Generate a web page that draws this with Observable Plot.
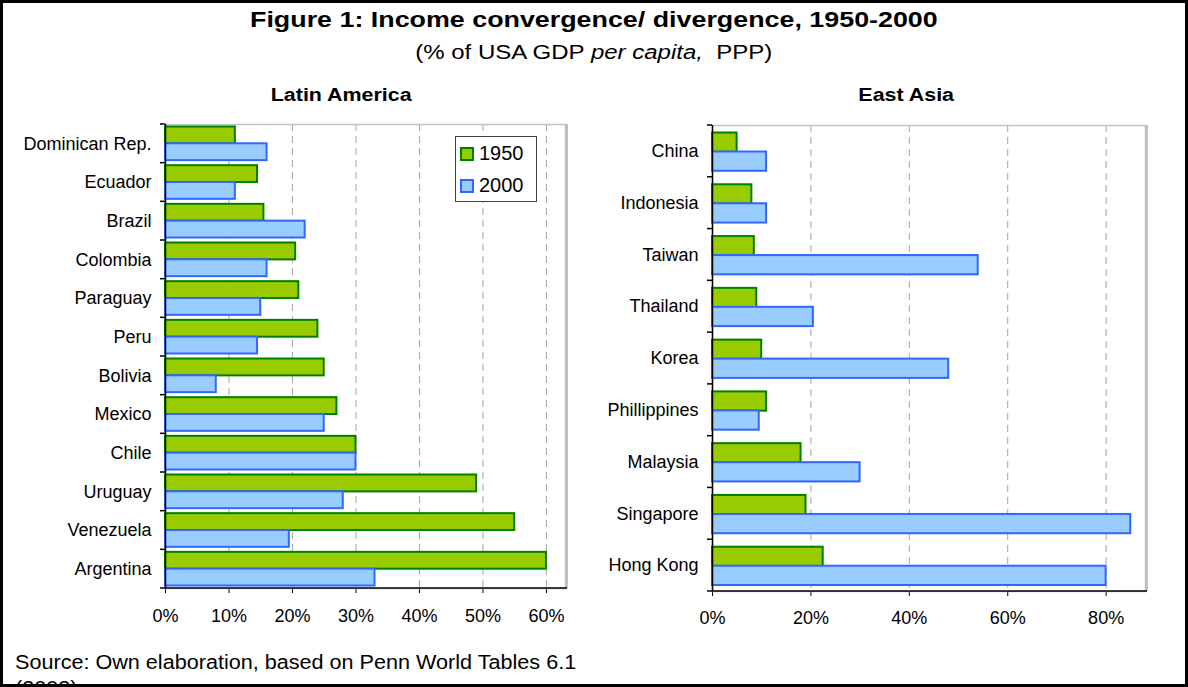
<!DOCTYPE html>
<html><head><meta charset="utf-8">
<script src="https://cdn.jsdelivr.net/npm/d3@7"></script>
<script src="https://cdn.jsdelivr.net/npm/@observablehq/plot@0.6"></script>
<style>
body{margin:0;background:#fff;font-family:Arial,"Liberation Sans",sans-serif;}
#page{position:relative;width:1188px;height:687px;overflow:hidden;background:#fff;}
#border{position:absolute;left:0;top:0;width:1188px;height:687px;box-sizing:border-box;border:3px solid #000;pointer-events:none;z-index:10}
.t{position:absolute;white-space:nowrap;color:#000}
.t span{display:inline-block}
.chart{position:absolute}
.chart svg{display:block}
.sw{position:absolute;width:14px;height:14px;box-sizing:border-box;border:2px solid}
</style></head><body>
<div id="page">
  <div class="t" style="left:0;width:1188px;text-align:center;top:7px;line-height:26px;font-weight:bold;font-size:22px"><span style="transform:scaleX(1.22)">Figure 1: Income convergence/ divergence, 1950-2000</span></div>
  <div class="t" style="left:0;width:1188px;text-align:center;top:40px;line-height:24px;font-size:20px"><span style="transform:scaleX(1.2)">(% of USA GDP <i>per capita,</i>&nbsp; PPP)</span></div>
  <div class="t" style="left:191px;width:300px;text-align:center;top:84px;line-height:22px;font-weight:bold;font-size:18px"><span style="transform:scaleX(1.19)">Latin America</span></div>
  <div class="t" style="left:756px;width:300px;text-align:center;top:84px;line-height:22px;font-weight:bold;font-size:18px"><span style="transform:scaleX(1.19)">East Asia</span></div>
  <div id="left" class="chart" style="left:0;top:110px"></div>
  <div id="right" class="chart" style="left:600px;top:110px"></div>
  <div id="legend" style="position:absolute;left:455px;top:136px;width:82px;height:66px;box-sizing:border-box;border:1px solid #404040;background:#fff;z-index:5"></div>
  <div class="t" style="left:15px;top:650px;line-height:24px;font-size:20px"><span style="transform:scaleX(1.08);transform-origin:left center">Source: Own elaboration, based on Penn World Tables 6.1</span></div>
  <div class="t" style="left:15px;top:676px;line-height:24px;font-size:20px"><span style="transform:scaleX(1.08);transform-origin:left center">(2003)</span></div>
  <div id="border"></div>
</div>
<script>
const laCountries = ["Dominican Rep.","Ecuador","Brazil","Colombia","Paraguay","Peru","Bolivia","Mexico","Chile","Uruguay","Venezuela","Argentina"];
const la1950 = [11, 14.5, 15.5, 20.5, 21, 24, 25, 27, 30, 49, 55, 60];
const la2000 = [16, 11, 22, 16, 15, 14.5, 8, 25, 30, 28, 19.5, 33];
const eaCountries = ["China","Indonesia","Taiwan","Thailand","Korea","Phillippines","Malaysia","Singapore","Hong Kong"];
const ea1950 = [5, 8, 8.5, 9, 10, 11, 18, 19, 22.5];
const ea2000 = [11, 11, 54, 20.5, 48, 9.5, 30, 85, 80];
const years = ["1950", "2000"];
const laTicks = [0, 10, 20, 30, 40, 50, 60];
const eaTicks = [0, 20, 40, 60, 80];

const GREEN = "#99cc00", GREEN_S = "#008000";
const BLUE = "#99ccff", BLUE_S = "#3366ff";

function makeChart(o) {
  const rows = o.countries.map((c, i) => ({country: c, a: o.v1950[i], b: o.v2000[i]}));
  const chart = Plot.plot({
    width: o.width, height: o.height,
    marginLeft: o.mL, marginRight: o.mR, marginTop: o.mT, marginBottom: o.mB,
    style: {fontFamily: 'Arial, "Liberation Sans", sans-serif', fontSize: "18px", color: "#000", background: "transparent", overflow: "visible"},
    x: {domain: [0, o.xMax], ticks: o.ticks, tickFormat: d => d + "%", tickSize: 5, tickPadding: o.tickPad, label: null},
    y: {domain: o.countries, padding: 0, round: false, tickSize: 0, tickPadding: 14, label: null},
    marks: [
      Plot.ruleX(o.ticks.filter(t => t > 0), {stroke: "#a6a6a6", strokeDasharray: "7,5"}),
      Plot.frame({stroke: "#c4c4c4", strokeWidth: 1.5}),
      Plot.ruleX([o.xMax], {stroke: "#c0c0c0", strokeWidth: 3, dx: 1}),
      Plot.barX(rows, {y: "country", x: "a", fill: GREEN, stroke: GREEN_S, strokeWidth: 2, insetTop: o.gT, insetBottom: o.gB}),
      Plot.barX(rows, {y: "country", x: "b", fill: BLUE, stroke: BLUE_S, strokeWidth: 2, insetTop: o.bT, insetBottom: o.bB}),
      Plot.ruleX([0], {stroke: "#000", strokeWidth: 1.5})
    ]
  });
  const x = chart.scale("x"), y = chart.scale("y");
  const svg = d3.select(chart);
  const x0 = x.range[0], x1 = x.range[1];
  const yb = y.range[1];
  const g = svg.append("g").attr("stroke", "#000").attr("stroke-width", 1.5);
  g.append("line").attr("x1", x0).attr("x2", x1 + 2).attr("y1", yb).attr("y2", yb);
  const bounds = o.countries.map(c => y.apply(c)).concat([y.apply(o.countries[o.countries.length - 1]) + y.bandwidth]);
  bounds.forEach(b => g.append("line").attr("x1", x0 - 5).attr("x2", x0).attr("y1", b).attr("y2", b));
  return chart;
}

document.getElementById("left").appendChild(makeChart({
  countries: laCountries, v1950: la1950, v2000: la2000, ticks: laTicks, xMax: 63,
  width: 600, height: 510, mL: 165, mR: 35, mT: 14, mB: 32, tickPad: 16,
  gT: 2.5, gB: 19.3, bT: 19.3, bB: 2.5
}));
document.getElementById("right").appendChild(makeChart({
  countries: eaCountries, v1950: ea1950, v2000: ea2000, ticks: eaTicks, xMax: 88,
  width: 588, height: 510, mL: 112, mR: 43, mT: 15, mB: 29, tickPad: 15,
  gT: 7.5, gB: 25, bT: 26.5, bB: 6
}));

const legend = document.getElementById("legend");
const fills = [[GREEN, GREEN_S], [BLUE, BLUE_S]];
years.forEach((yr, i) => {
  const sw = document.createElement("div");
  sw.className = "sw";
  sw.style.left = "4px"; sw.style.top = (10 + i * 32) + "px";
  sw.style.background = fills[i][0]; sw.style.borderColor = fills[i][1];
  legend.appendChild(sw);
  const t = document.createElement("div");
  t.className = "t";
  t.style.left = "23px"; t.style.top = (6 + i * 32) + "px";
  t.style.lineHeight = "20px"; t.style.fontSize = "20px";
  t.textContent = yr;
  legend.appendChild(t);
});
</script>
</body></html>
